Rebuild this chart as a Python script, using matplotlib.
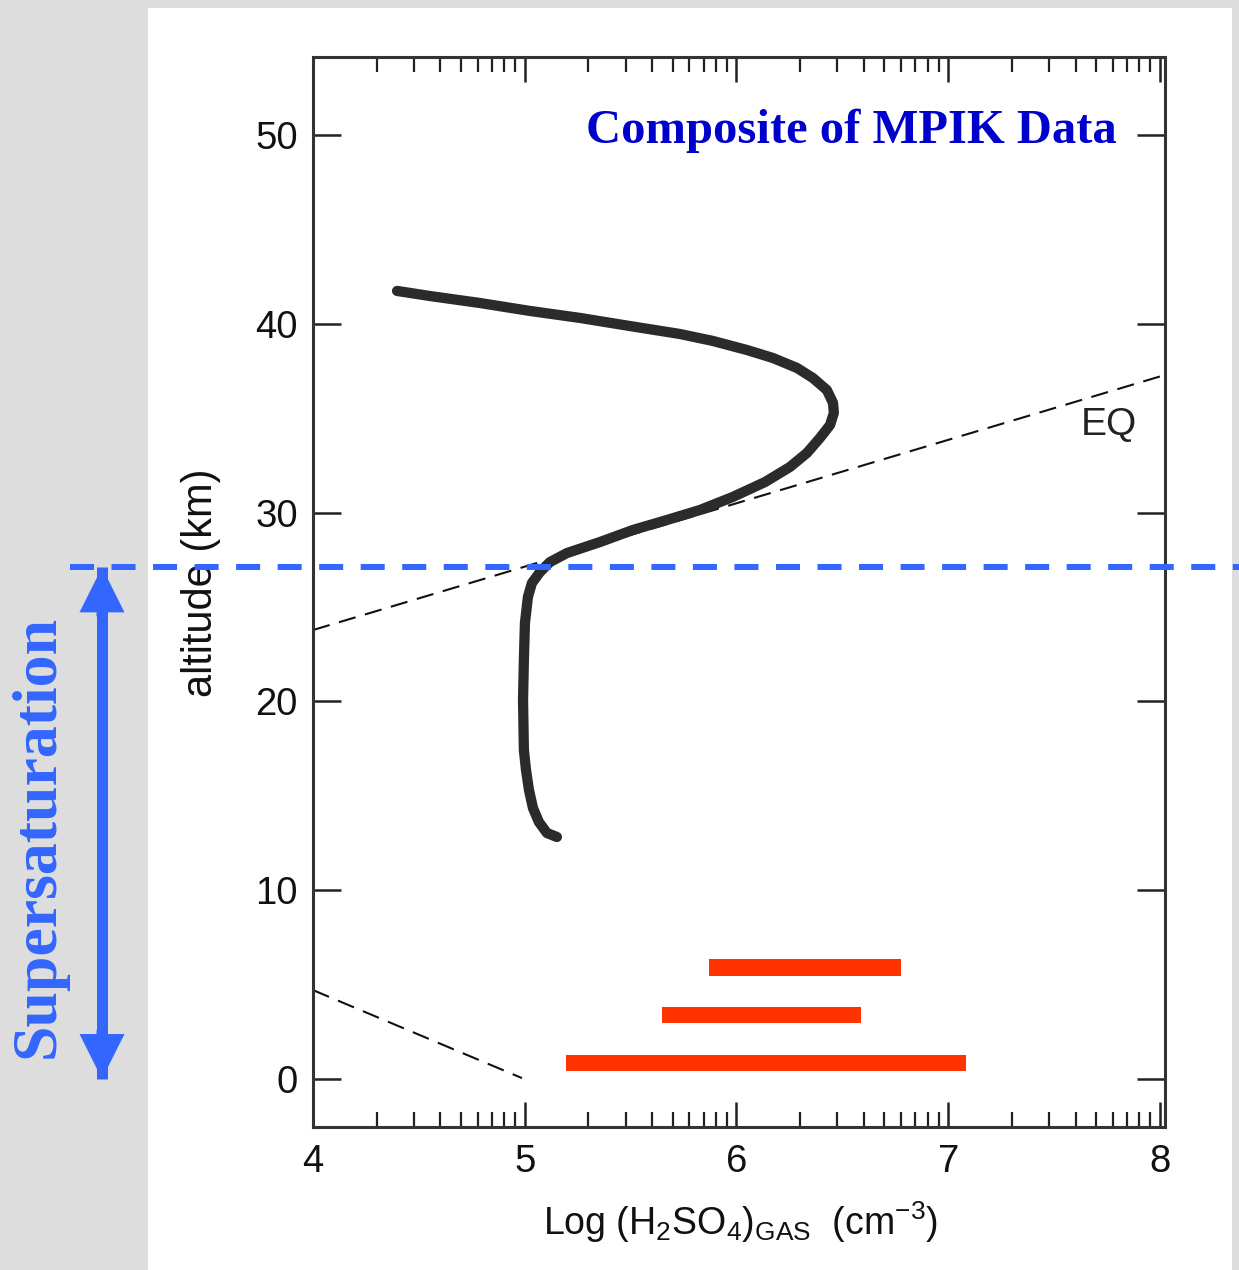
import numpy as np
import matplotlib
matplotlib.use('Agg')
import matplotlib.pyplot as plt
from matplotlib.patches import Rectangle, FancyArrowPatch
from matplotlib.transforms import blended_transform_factory

plt.rcParams['font.family'] = ['Liberation Sans', 'DejaVu Sans']
plt.rcParams['mathtext.fontset'] = 'custom'
plt.rcParams['mathtext.rm'] = 'Liberation Sans'
plt.rcParams['mathtext.it'] = 'Liberation Sans'
plt.rcParams['lines.scale_dashes'] = False

# H2SO4 gas profile (log conc, altitude km)
prof_x = [4.397, 4.553, 4.789, 5.025, 5.261, 5.497, 5.733, 5.889, 6.050, 6.172, 6.286,
          6.361, 6.427, 6.456, 6.460, 6.442, 6.394, 6.333, 6.253, 6.135, 5.983, 5.828,
          5.672, 5.511, 5.355, 5.200, 5.119, 5.072, 5.034, 5.015, 5.001, 4.996, 4.992,
          4.996, 5.006, 5.020, 5.039, 5.067, 5.105, 5.152]
prof_y = [41.74, 41.47, 41.10, 40.68, 40.31, 39.88, 39.46, 39.09, 38.61, 38.19, 37.66,
          37.13, 36.49, 35.81, 35.28, 34.64, 33.95, 33.16, 32.42, 31.62, 30.83, 30.14,
          29.61, 29.08, 28.44, 27.86, 27.38, 26.85, 26.27, 25.53, 24.15, 22.19, 20.07,
          17.43, 16.37, 15.31, 14.35, 13.61, 13.03, 12.82]

# equilibrium lines
eq_x = [4.0, 8.024]
eq_y = [23.78, 37.29]
eq_low_x = [4.0, 4.987]
eq_low_y = [4.71, 0.05]

# measured ranges (red bars)
bar_y = [5.91, 3.39, 0.85]
bar_lo = [5.870, 5.648, 5.195]
bar_hi = [6.777, 6.588, 7.084]

sat_alt = 27.1

xticks = [4, 5, 6, 7, 8]
yticks = [0, 10, 20, 30, 40, 50]

fig = plt.figure(figsize=(12.39, 12.70), dpi=100)
fig.patch.set_facecolor('#dddddd')
fig.patches.append(Rectangle((148 / 1239, 0), (1232 - 148) / 1239, (1270 - 8) / 1270,
                             transform=fig.transFigure, facecolor='white',
                             edgecolor='none', zorder=-5))

ax = fig.add_axes([313 / 1239, 1 - 1127 / 1270, 852 / 1239, 1070 / 1270])
ax.set_facecolor('none')
ax.set_xlim(4, 8.024)
ax.set_ylim(-2.54, 54.13)

ax.plot(eq_x, eq_y, color='#111111', lw=1.5, dashes=(12.5, 7))
ax.plot(eq_low_x, eq_low_y, color='#111111', lw=1.5, dashes=(12.5, 7))
ax.plot(prof_x, prof_y, color='#2b2b2b', lw=7.4, solid_capstyle='round',
        solid_joinstyle='round', zorder=3)
ax.barh(bar_y, np.array(bar_hi) - np.array(bar_lo), left=bar_lo, height=0.87,
        color='#ff3300', zorder=3)

ax.text(7.76, 34.64, 'EQ', fontsize=28, color='#222222', ha='center', va='center')
ax.text(0.32, 0.9196, 'Composite of MPIK Data', transform=ax.transAxes,
        fontsize=35, fontweight='bold', family='Liberation Serif', color='#0000cc',
        ha='left', va='baseline')

# axes styling
for s in ax.spines.values():
    s.set_color('#333333')
    s.set_linewidth(2.2)
ax.set_xticks(xticks)
ax.set_yticks(yticks)
minor = [d + np.log10(k) for d in range(4, 8) for k in range(2, 10)]
ax.set_xticks(minor, minor=True)
ax.tick_params(axis='both', which='both', direction='in', top=True, right=True,
               color='#222222', labelsize=27.5, labelcolor='#111111')
ax.tick_params(axis='y', which='major', length=20, width=1.8, pad=11)
ax.tick_params(axis='x', which='major', length=18, width=1.8, pad=12)
ax.tick_params(axis='x', which='minor', length=11, width=1.6)

ax.set_ylabel('altitude (km)', fontsize=30, color='#111111')
ax.yaxis.set_label_coords(-0.108, 0.509)
ax.set_xlabel(r'Log (H$_2$SO$_4$)$_{\mathrm{GAS}}$  (cm$^{-3}$)', fontsize=27, color='#111111')
ax.xaxis.set_label_coords(0.502, -0.068)

# supersaturation marker
tr = blended_transform_factory(fig.transFigure, ax.transData)
ax.plot([70 / 1239, 1.0], [sat_alt, sat_alt], transform=tr, clip_on=False,
        color='#3366ff', lw=4.3, dashes=(17.3, 12.6), zorder=4)
xa = 102 / 1239
ax.plot([xa, xa], [0.0, sat_alt], transform=tr, clip_on=False, color='#3366ff',
        lw=7.9, solid_capstyle='butt')
for start, end in ((sat_alt - 2.6, sat_alt), (2.6, 0.0)):
    ar = FancyArrowPatch((xa, start), (xa, end), transform=tr,
                         arrowstyle='simple,head_length=32.4,head_width=32.4,tail_width=7.9',
                         mutation_scale=1, shrinkA=0, shrinkB=0, color='#3366ff',
                         lw=0, clip_on=False)
    ax.add_patch(ar)

fig.text(39 / 1239, 1 - 836 / 1270, 'Supersaturation', rotation=90, ha='center', va='center',
         fontsize=46, fontweight='bold', family='Liberation Serif', color='#3366ff')

fig.savefig('out.png', dpi=100, facecolor=fig.get_facecolor())
